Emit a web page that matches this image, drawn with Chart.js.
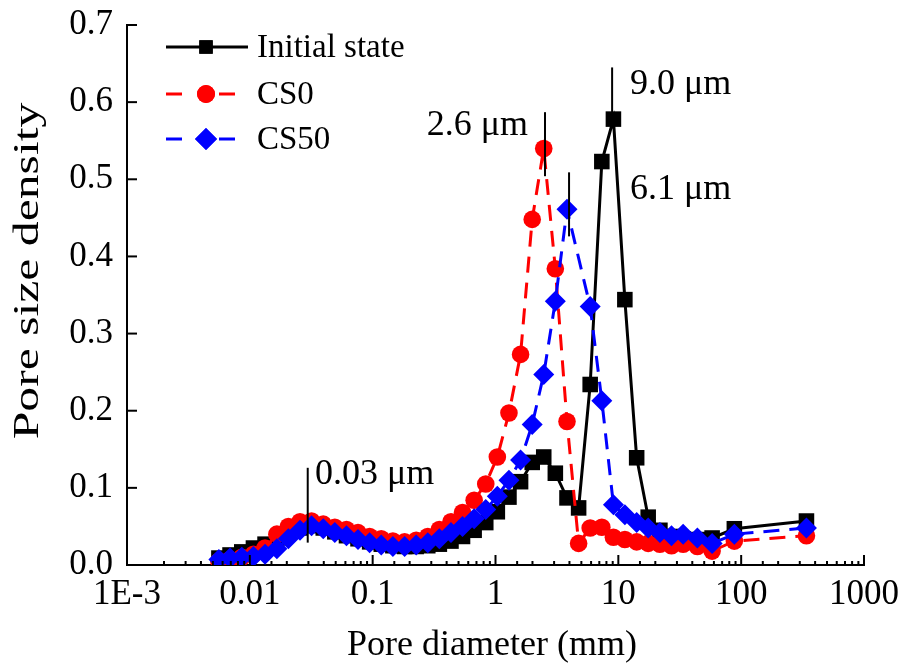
<!DOCTYPE html>
<html><head><meta charset="utf-8">
<script src="https://cdn.jsdelivr.net/npm/chart.js@4.4.1/dist/chart.umd.min.js"></script>
<style>html,body{margin:0;padding:0;background:#fff;}</style>
</head><body>
<canvas id="c" width="902" height="670" style="width:902px;height:670px;display:block"></canvas>
<script>
// ---- data ----
const diameters = [0.0056, 0.0069, 0.0086, 0.0107, 0.0133, 0.0166, 0.0206, 0.0256, 0.0318, 0.0396,
  0.0492, 0.0612, 0.076, 0.0945, 0.1175, 0.146, 0.182, 0.226, 0.281, 0.349,
  0.434, 0.539, 0.67, 0.833, 1.035, 1.287, 1.6, 1.99, 2.47, 3.07,
  3.82, 4.75, 5.9, 7.34, 9.12, 11.3, 14.1, 17.5, 21.8, 27.1,
  33.7, 44, 58, 88, 340];
const initialState = [0.009, 0.013, 0.017, 0.022, 0.027, 0.034, 0.042, 0.048, 0.051, 0.048,
  0.043, 0.038, 0.034, 0.030, 0.027, 0.025, 0.024, 0.024, 0.025, 0.027,
  0.031, 0.037, 0.045, 0.055, 0.069, 0.088, 0.108, 0.133, 0.140, 0.119,
  0.087, 0.074, 0.234, 0.523, 0.578, 0.344, 0.139, 0.062, 0.045, 0.037,
  0.034, 0.033, 0.035, 0.047, 0.057];
const cs0 = [0.005, 0.007, 0.010, 0.014, 0.022, 0.040, 0.050, 0.056, 0.057, 0.053,
  0.049, 0.046, 0.042, 0.037, 0.034, 0.031, 0.030, 0.032, 0.037, 0.046,
  0.056, 0.068, 0.084, 0.105, 0.140, 0.197, 0.273, 0.448, 0.540, 0.384,
  0.186, 0.028, 0.048, 0.049, 0.036, 0.033, 0.030, 0.028, 0.027, 0.025,
  0.027, 0.024, 0.018, 0.031, 0.038];
const cs50 = [0.007, 0.009, 0.010, 0.011, 0.014, 0.021, 0.034, 0.045, 0.051, 0.047,
  0.042, 0.038, 0.033, 0.029, 0.026, 0.024, 0.024, 0.026, 0.029, 0.034,
  0.042, 0.050, 0.060, 0.072, 0.089, 0.110, 0.136, 0.182, 0.247, 0.342,
  0.461, null, 0.335, 0.213, 0.078, 0.065, 0.055, 0.048, 0.042, 0.038,
  0.040, 0.035, 0.028, 0.040, 0.048];
const seriesNames = ['Initial state', 'CS0', 'CS50'];
const xTickLabels = ['1E-3', '0.01', '0.1', '1', '10', '100', '1000'];
const yTickValues = [0, 0.1, 0.2, 0.3, 0.4, 0.5, 0.6, 0.7];
const peakLabels = ['0.03 \u03bcm', '2.6 \u03bcm', '6.1 \u03bcm', '9.0 \u03bcm'];
const peakX = [0.0296, 2.53, 3.97, 8.9];
const peakLineTop = [0.126, 0.587, 0.509, 0.645];
const peakLineBottom = [0.029, 0.504, 0.426, 0.581];

const FONT = '"Liberation Serif", "Times New Roman", serif';
const colors = ['#000000', '#ff0000', '#0000ff'];
const styles = ['rect', 'circle', 'rectRot'];
const radii = [11, 8.8, 10.5];

function pts(vals) { return diameters.map((d, i) => ({ x: d, y: vals[i] })); }

const decorPlugin = {
  id: 'decor',
  afterDraw(chart) {
    const ctx = chart.ctx, xs = chart.scales.x, ys = chart.scales.y, ca = chart.chartArea;
    ctx.save();
    ctx.strokeStyle = '#000'; ctx.lineWidth = 2; ctx.setLineDash([]);
    // x ticks (inward), major at decades, minor otherwise
    xs.ticks.forEach(t => {
      const lg = Math.log10(t.value);
      const major = Math.abs(lg - Math.round(lg)) < 1e-6;
      const px = xs.getPixelForValue(t.value);
      ctx.beginPath(); ctx.moveTo(px, ca.bottom); ctx.lineTo(px, ca.bottom - (major ? 10 : 4)); ctx.stroke();
    });
    // y ticks
    yTickValues.forEach(v => {
      const py = ys.getPixelForValue(v);
      ctx.beginPath(); ctx.moveTo(ca.left, py); ctx.lineTo(ca.left + 10, py); ctx.stroke();
    });
    ctx.fillStyle = '#000';
    // y labels
    ctx.font = '35px ' + FONT; ctx.textAlign = 'right'; ctx.textBaseline = 'middle';
    yTickValues.forEach(v => ctx.fillText(v.toFixed(1), ca.left - 14, ys.getPixelForValue(v)));
    // x labels
    ctx.textAlign = 'center';
    const majors = xs.ticks.filter(t => { const lg = Math.log10(t.value); return Math.abs(lg - Math.round(lg)) < 1e-6; });
    majors.forEach((t, i) => ctx.fillText(xTickLabels[i], xs.getPixelForValue(t.value), ca.bottom + 30));
    // axis titles
    ctx.font = '36px ' + FONT;
    ctx.fillText('Pore diameter (mm)', 492, 646);
    ctx.save(); ctx.translate(29, 271); ctx.rotate(-Math.PI / 2); ctx.scale(1.38, 1);
    ctx.fillText('Pore size density', 0, 0); ctx.restore();
    // peak annotations
    ctx.lineWidth = 2;
    peakX.forEach((v, i) => {
      const px = xs.getPixelForValue(v);
      ctx.beginPath(); ctx.moveTo(px, ys.getPixelForValue(peakLineTop[i])); ctx.lineTo(px, ys.getPixelForValue(peakLineBottom[i])); ctx.stroke();
    });
    ctx.font = '36px ' + FONT; ctx.textBaseline = 'middle';
    ctx.textAlign = 'left'; ctx.fillText(peakLabels[0], 315, 475);
    ctx.textAlign = 'right'; ctx.fillText(peakLabels[1], 528, 126);
    ctx.textAlign = 'left'; ctx.fillText(peakLabels[2], 630, 190);
    ctx.fillText(peakLabels[3], 630, 85);
    // legend
    const ly = [47, 94, 139];
    seriesNames.forEach((name, i) => {
      ctx.strokeStyle = colors[i]; ctx.fillStyle = colors[i]; ctx.lineWidth = 3;
      ctx.beginPath();
      if (i === 0) { ctx.moveTo(166, ly[i]); ctx.lineTo(248, ly[i]); }
      else { ctx.moveTo(166, ly[i]); ctx.lineTo(182, ly[i]); ctx.moveTo(219, ly[i]); ctx.lineTo(235, ly[i]); }
      ctx.stroke();
      Chart.helpers.drawPoint(ctx, { pointStyle: styles[i], radius: i === 0 ? 9.5 : (i === 1 ? 9 : 11), borderWidth: 0 }, 206, ly[i]);
      ctx.fill();
      ctx.fillStyle = '#000'; ctx.font = '33px ' + FONT; ctx.textAlign = 'left'; ctx.textBaseline = 'middle';
      ctx.fillText(name, 257, ly[i] + 1);
    });
    ctx.restore();
  }
};

new Chart(document.getElementById('c'), {
  type: 'line',
  data: {
    datasets: [initialState, cs0, cs50].map((vals, i) => ({
      label: seriesNames[i],
      data: pts(vals),
      borderColor: colors[i],
      backgroundColor: colors[i],
      borderWidth: 3,
      borderDash: i === 0 ? [] : [16, 10],
      pointStyle: styles[i],
      pointRadius: radii[i],
      pointHoverRadius: radii[i],
      pointBorderWidth: 0,
      pointBackgroundColor: colors[i],
      spanGaps: true,
      tension: 0,
      order: 3 - i
    }))
  },
  options: {
    responsive: false,
    animation: false,
    events: [],
    layout: { padding: { left: 127, right: 38, top: 25, bottom: 105 } },
    plugins: { legend: { display: false }, tooltip: { enabled: false } },
    scales: {
      x: {
        type: 'logarithmic', min: 0.001, max: 1000,
        grid: { display: false, drawTicks: false },
        border: { display: true, color: '#000', width: 2 },
        ticks: { display: false }
      },
      y: {
        type: 'linear', min: 0, max: 0.7,
        grid: { display: false, drawTicks: false },
        border: { display: true, color: '#000', width: 2 },
        ticks: { display: false, stepSize: 0.1 }
      }
    }
  },
  plugins: [decorPlugin]
});
</script>
</body></html>
